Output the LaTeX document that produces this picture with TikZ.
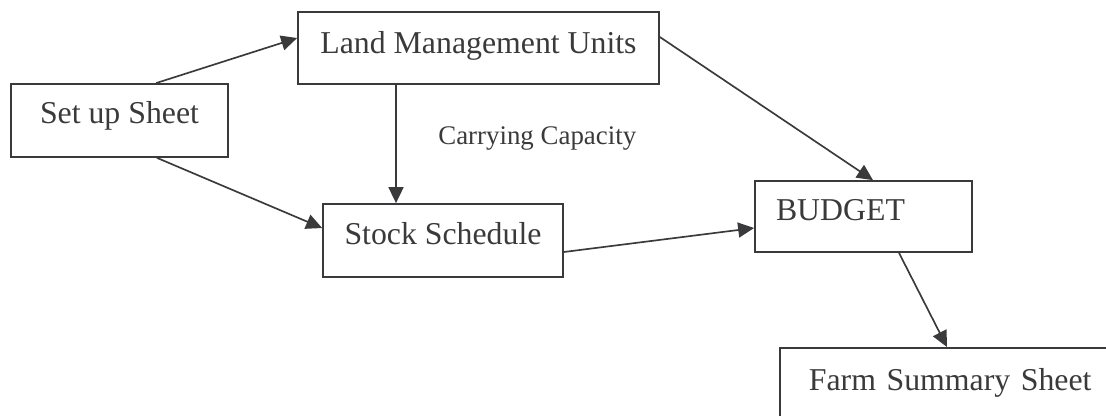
\documentclass[tikz,border=0pt]{standalone}
\usepackage{fontspec}
\setmainfont{Liberation Serif}
\usepackage{tikz}
\usetikzlibrary{arrows.meta}
\definecolor{inkgray}{HTML}{3A3A3C}

\begin{document}
\begin{tikzpicture}[x=0.02cm,y=-0.02cm,>={Triangle[length=0.32cm,width=0.3cm]}]
    \tikzstyle{sheet}=[draw=inkgray,line width=1pt,inner sep=0pt,text depth=0pt,text=inkgray,font=\fontsize{18.1}{20}\selectfont]
    \tikzstyle{link}=[->,draw=inkgray,line width=0.95pt]
    \useasboundingbox (0,0) rectangle (1106,416);
    \clip (0,0) rectangle (1106,416);
    \node[sheet,minimum width=4.34cm,minimum height=1.46cm,text height=0.1cm] (setup) at (119.5,120.5) {Set up Sheet};
    \node[sheet,minimum width=7.22cm,minimum height=1.44cm,text height=0.2cm] (lmu) at (478.5,48) {Land Management Units};
    \node[sheet,minimum width=4.8cm,minimum height=1.46cm,text height=0.14cm] (stock) at (443,240.5) {Stock Schedule};
    \node[sheet,text width=3.5cm,align=left,inner xsep=0.42cm,minimum height=1.42cm,text height=0.14cm] (budget) at (863.5,216.5) {BUDGET};
    \node[sheet,anchor=north west,text width=7cm,align=left,inner xsep=0.58cm,inner ysep=0.44cm,text height=0.42cm,text depth=1.5cm] (summary) at (779,347) {Farm Summary Sheet};
    \node[anchor=base west,inner sep=0pt,text=inkgray,font=\fontsize{15.3}{17}\selectfont] (capacity) at (438,144) {Carrying Capacity};
    \draw[link] ([xshift=0.73cm]setup.north) -- ([yshift=0.2cm]lmu.west);
    \draw[link] ([xshift=0.75cm]setup.south) -- ([yshift=0.25cm]stock.west);
    \draw[link] ([xshift=-1.65cm]lmu.south) -- ([xshift=-0.94cm]stock.north);
    \draw[link] ([yshift=0.22cm]lmu.east) -- ([xshift=0.19cm]budget.north);
    \draw[link] ([yshift=-0.23cm]stock.east) -- ([yshift=-0.23cm]budget.west);
    \draw[link] ([xshift=0.71cm]budget.south) -- ([xshift=3.36cm]summary.north west);
\end{tikzpicture}
\end{document}
